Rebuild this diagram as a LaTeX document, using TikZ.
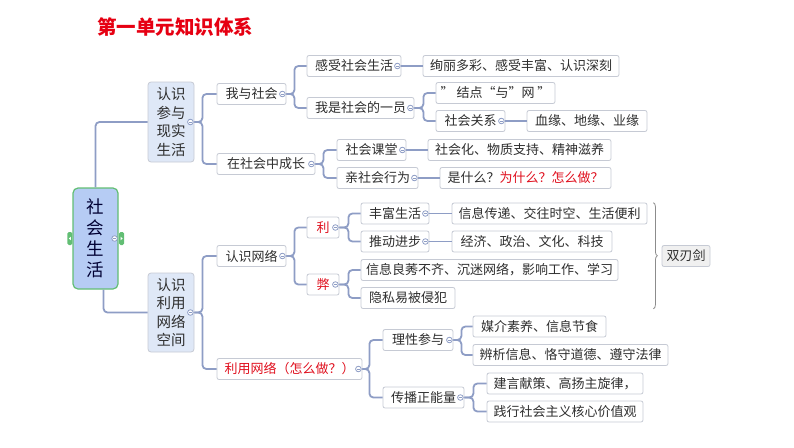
\documentclass[tikz,border=0pt]{standalone}
\usepackage{fontspec}
\setmainfont{Noto Sans CJK SC}
\usetikzlibrary{calc,decorations.pathreplacing}
\definecolor{conn}{HTML}{8E9DC5}
\definecolor{boxline}{HTML}{C6CAD4}
\definecolor{txt}{HTML}{2E2E2E}
\definecolor{redtxt}{HTML}{E0101E}
\definecolor{titlered}{HTML}{E60012}
\definecolor{rootfill}{HTML}{B6CCF4}
\definecolor{rootline}{HTML}{62BE74}
\definecolor{subfill}{HTML}{DFE8F7}
\definecolor{swordfill}{HTML}{F0F0F0}
\newcommand\collapseon[1]{%
  \fill[white,draw=conn,line width=0.8pt] ($(#1.east)+(-4,0)$) circle (2.8);
  \draw[conn,line width=0.9pt] ($(#1.east)+(-5.6,0)$) -- ++(3.2,0);}
\begin{document}
\begin{tikzpicture}[x=1pt,y=-1pt,
  box/.style={draw=boxline, fill=white, rounded corners=2pt, minimum height=21pt,
    inner sep=0pt, line width=0.8pt, text=txt, font=\fontsize{13}{14}\selectfont},
  subbox/.style={draw=boxline, fill=subfill, rounded corners=3pt, inner sep=0pt,
    line width=0.8pt, text=txt, align=center, font=\fontsize{14.5}{18.5}\selectfont},
  rootbox/.style={draw=rootline, fill=rootfill, rounded corners=5pt, inner sep=0pt,
    line width=1.2pt, text=black!80!blue, align=center, font=\fontsize{17.5}{21}\selectfont},
  wire/.style={draw=conn, line width=1.8pt, rounded corners=4pt},
  tab/.style={fill=rootline, rounded corners=1.5pt, minimum width=5pt, minimum height=13pt, inner sep=0pt}
]
\useasboundingbox (0,0) rectangle (794,447);

% title
\node[font=\fontsize{19.5}{22}\selectfont\bfseries, text=titlered] (title) at (175,27) {第一单元知识体系};

% nodes
\node[rootbox, minimum width=45pt, minimum height=101pt] (root) at (95.5,238.5) {社\\会\\生\\活};
\node[subbox, minimum width=46pt, minimum height=80pt] (A1) at (171,122) {认识\\参与\\现实\\生活};
\node[subbox, minimum width=46pt, minimum height=79pt] (A2) at (171,312.5) {认识\\利用\\网络\\空间};

\node[box, minimum width=69pt] (B1) at (251.5,94) {我与社会};
\node[box, minimum width=98pt] (B2) at (266,164) {在社会中成长};
\node[box, minimum width=94pt] (C1) at (354,66) {感受社会生活\hspace{4pt}};
\node[box, minimum width=107pt] (C2) at (360.5,108) {我是社会的一员\hspace{4pt}};
\node[box, minimum width=196pt] (D1) at (521,66) {绚丽多彩、感受丰富、认识深刻};
\node[box, minimum width=119pt] (D2) at (495.5,93) {” 结点“与”网 ”};
\node[box, minimum width=69pt] (D3) at (470.5,121) {社会关系\hspace{4pt}};
\node[box, minimum width=120pt] (D4) at (587,121) {血缘、地缘、业缘};
\node[box, minimum width=69pt] (C3) at (371.5,150) {社会课堂\hspace{4pt}};
\node[box, minimum width=81pt] (C4) at (377.5,178) {亲社会行为\hspace{4pt}};
\node[box, minimum width=183pt] (D5) at (519.5,150) {社会化、物质支持、精神滋养};
\node[box, minimum width=171pt] (D6) at (525.5,178) {是什么？\textcolor{redtxt}{为什么？怎么做？}};

\node[box, minimum width=69pt] (E1) at (251.5,256) {认识网络\hspace{4pt}};
\node[box, minimum width=145pt, text=redtxt] (E2) at (289.5,369) {利用网络（怎么做？）\hspace{4pt}};
\node[box, minimum width=32pt, text=redtxt] (F1) at (323,227.5) {利\hspace{6pt}};
\node[box, minimum width=32pt, text=redtxt] (F2) at (323,284.5) {弊\hspace{6pt}};
\node[box, minimum width=68pt] (G1) at (395,213.5) {丰富生活\hspace{4pt}};
\node[box, minimum width=68pt] (G2) at (395,241.5) {推动进步\hspace{4pt}};
\node[box, minimum width=257pt] (G3) at (489.5,270) {信息良莠不齐、沉迷网络，影响工作、学习};
\node[box, minimum width=94pt] (G4) at (408,298) {隐私易被侵犯};
\node[box, minimum width=195pt] (H1) at (549.5,213.5) {信息传递、交往时空、生活便利};
\node[box, minimum width=160pt] (H2) at (532,241.5) {经济、政治、文化、科技};
\node[box, minimum width=48pt, fill=swordfill] (S) at (686,256) {双刃剑};
\node[box, minimum width=70pt] (I1) at (418,340) {理性参与\hspace{4pt}};
\node[box, minimum width=81pt] (I2) at (423.5,397.5) {传播正能量\hspace{4pt}};
\node[box, minimum width=133pt] (J1) at (539.5,326.5) {媒介素养、信息节食};
\node[box, minimum width=195pt] (J2) at (570.5,355) {辨析信息、恪守道德、遵守法律};
\node[box, minimum width=156pt] (J3) at (565,383.5) {建言献策、高扬主旋律，};
\node[box, minimum width=156pt] (J4) at (565,411.5) {践行社会主义核心价值观};

% connectors
\path[wire] (root.north) |- (A1.west);
\path[wire] ([xshift=8pt]root.south) |- (A2.west);
\foreach \c in {B1,B2} \path[wire] (A1.east) -- ++(8,0) |- (\c.west);
\foreach \c in {C1,C2} \path[wire] (B1.east) -- ++(8,0) |- (\c.west);
\foreach \c in {C3,C4} \path[wire] (B2.east) -- ++(8,0) |- (\c.west);
\path[wire] (C1.east) -- (D1.west);
\foreach \c in {D2,D3} \path[wire] (C2.east) -- ++(9,0) |- (\c.west);
\path[wire] (D3.east) -- (D4.west);
\path[wire] (C3.east) -- (D5.west);
\path[wire] (C4.east) -- (D6.west);
\foreach \c in {E1,E2} \path[wire] (A2.east) -- ++(8,0) |- (\c.west);
\foreach \c in {F1,F2} \path[wire] (E1.east) -- ++(8,0) |- (\c.west);
\foreach \c in {G1,G2} \path[wire] (F1.east) -- ++(9,0) |- (\c.west);
\foreach \c in {G3,G4} \path[wire] (F2.east) -- ++(9,0) |- (\c.west);
\path[wire] (G1.east) -- (H1.west);
\path[wire] (G2.east) -- (H2.west);
\foreach \c in {I1,I2} \path[wire] (E2.east) -- ++(7,0) |- (\c.west);
\foreach \c in {J1,J2} \path[wire] (I1.east) -- ++(8,0) |- (\c.west);
\foreach \c in {J3,J4} \path[wire] (I2.east) -- ++(9,0) |- (\c.west);

% brace
\draw[decorate, decoration={brace, amplitude=4pt}, draw=black!45, line width=0.8pt]
  ([xshift=6pt]H1.north east) -- ([xshift=6pt]H1.north east |- G4.south);

% collapse markers
\foreach \n in {root,A1,A2,B1,B2,C1,C2,D3,C3,C4,E1,E2,F1,F2,G1,G2,I1,I2} {\collapseon{\n}}

% root side tabs
\node[tab] (tl) at ([xshift=-2.5pt]root.west) {};
\node[tab] (tr) at ([xshift=3pt]root.east) {};
\fill[white] ([xshift=-1pt]tl.center) -- ++(2,-1.8) -- ++(0,3.6) -- cycle;
\fill[white] ([xshift=1pt]tr.center) -- ++(-2,-1.8) -- ++(0,3.6) -- cycle;
\end{tikzpicture}
\end{document}
